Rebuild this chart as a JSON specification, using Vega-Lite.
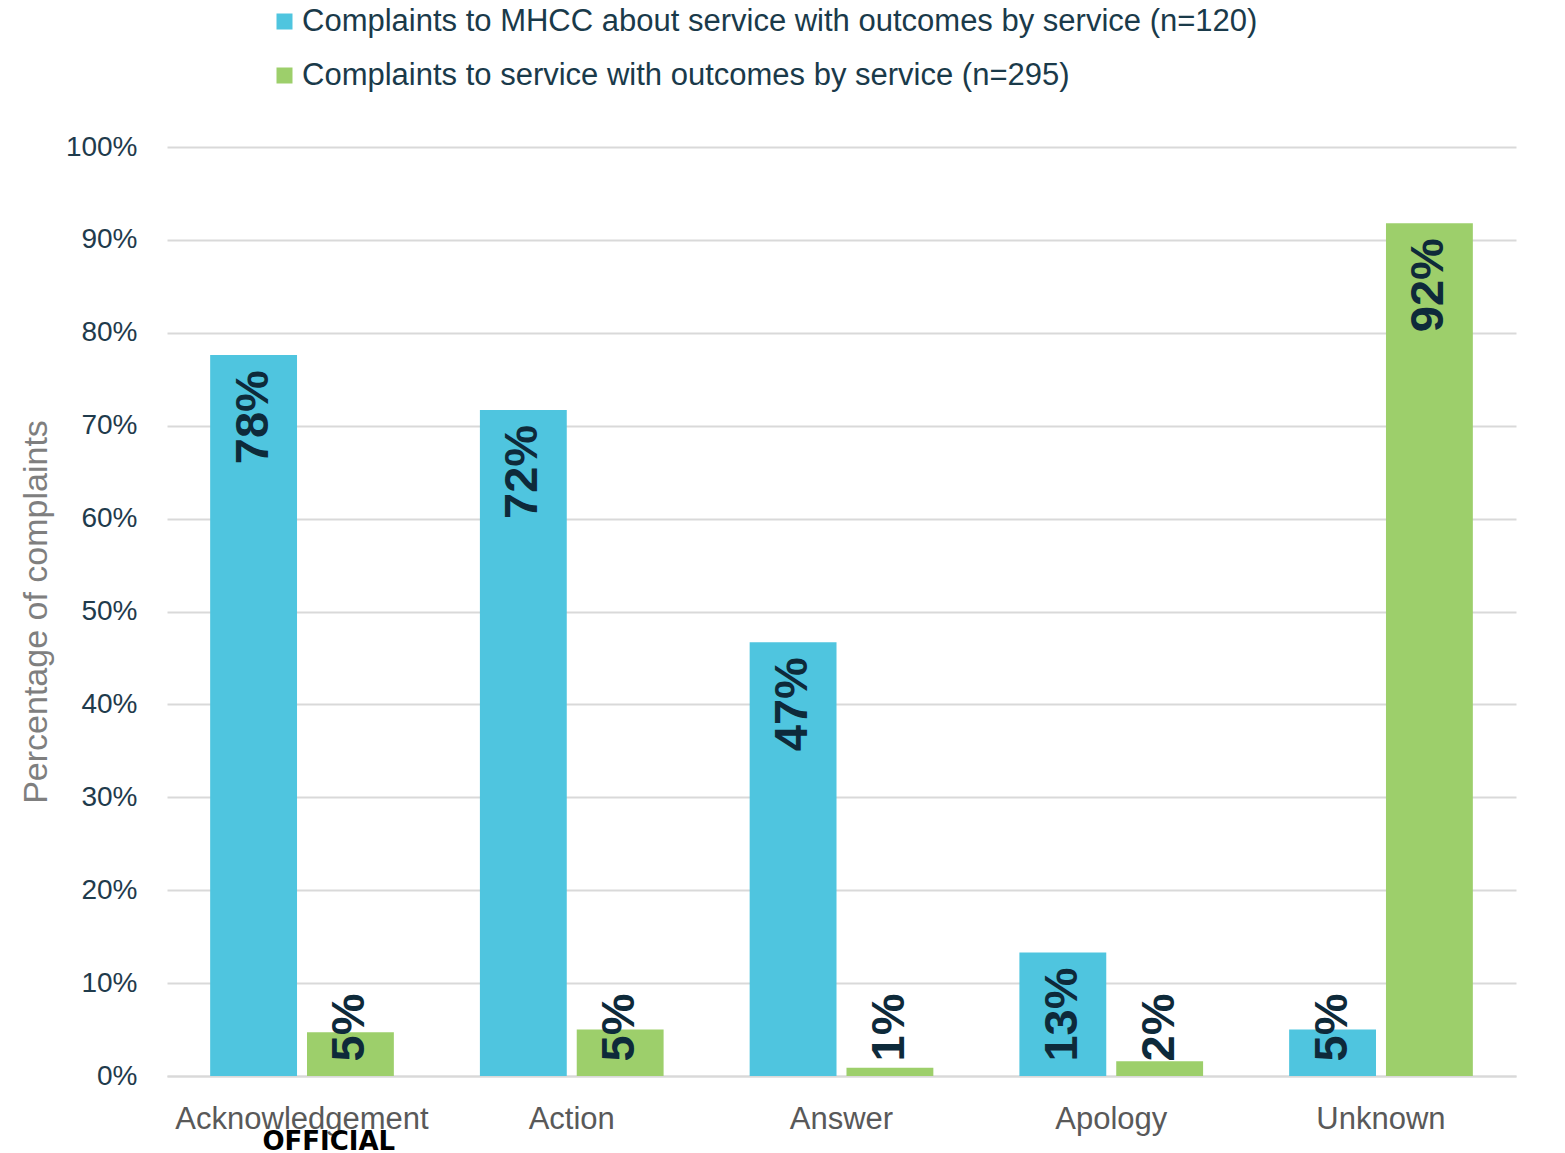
{
  "$schema": "https://vega.github.io/schema/vega-lite/v6.json",
  "autosize": {"type": "none"},
  "width": 1349,
  "height": 929,
  "padding": {"left": 167, "top": 147, "right": 49, "bottom": 77},
  "background": "white",
  "config": {
    "view": {"stroke": null},
    "font": "Liberation Sans"
  },
  "title": {
    "text": "OFFICIAL",
    "orient": "bottom",
    "anchor": "start",
    "dx": 243,
    "offset": -5,
    "font": "DejaVu Sans",
    "fontWeight": "bold",
    "fontSize": 26,
    "color": "#000000"
  },
  "data": {
    "values": [
      {"category": "Acknowledgement", "series": "Complaints to MHCC about service with outcomes by service (n=120)", "value": 0.776},
      {"category": "Acknowledgement", "series": "Complaints to service with outcomes by service (n=295)", "value": 0.047},
      {"category": "Action", "series": "Complaints to MHCC about service with outcomes by service (n=120)", "value": 0.717},
      {"category": "Action", "series": "Complaints to service with outcomes by service (n=295)", "value": 0.050},
      {"category": "Answer", "series": "Complaints to MHCC about service with outcomes by service (n=120)", "value": 0.467},
      {"category": "Answer", "series": "Complaints to service with outcomes by service (n=295)", "value": 0.009},
      {"category": "Apology", "series": "Complaints to MHCC about service with outcomes by service (n=120)", "value": 0.133},
      {"category": "Apology", "series": "Complaints to service with outcomes by service (n=295)", "value": 0.016},
      {"category": "Unknown", "series": "Complaints to MHCC about service with outcomes by service (n=120)", "value": 0.050},
      {"category": "Unknown", "series": "Complaints to service with outcomes by service (n=295)", "value": 0.918}
    ]
  },
  "encoding": {
    "x": {
      "field": "category",
      "type": "nominal",
      "sort": null,
      "scale": {"paddingInner": 0.319, "paddingOuter": 0.16},
      "axis": {
        "title": null,
        "labelAngle": 0,
        "labelFontSize": 31,
        "labelColor": "#595959",
        "labelPadding": 28,
        "labelLimit": 0,
        "labelOverlap": false,
        "ticks": false,
        "domainColor": "#d9d9d9",
        "domainWidth": 2
      }
    },
    "xOffset": {
      "field": "series",
      "type": "nominal",
      "scale": {"paddingInner": 0.103}
    }
  },
  "layer": [
    {
      "mark": {"type": "bar"},
      "encoding": {
        "y": {
          "field": "value",
          "type": "quantitative",
          "scale": {"domain": [0, 1]},
          "axis": {
            "title": "Percentage of complaints",
            "titleFontSize": 34,
            "titleFontWeight": "normal",
            "titleColor": "#7f7f7f",
            "titlePadding": 12,
            "format": ".0%",
            "values": [0, 0.1, 0.2, 0.3, 0.4, 0.5, 0.6, 0.7, 0.8, 0.9, 1],
            "labelOverlap": false,
            "labelFontSize": 28,
            "labelColor": "#1f3b4c",
            "labelPadding": 30,
            "ticks": false,
            "domain": false,
            "gridColor": "#d9d9d9",
            "gridWidth": 2
          }
        },
        "color": {
          "field": "series",
          "type": "nominal",
          "scale": {
            "domain": [
              "Complaints to MHCC about service with outcomes by service (n=120)",
              "Complaints to service with outcomes by service (n=295)"
            ],
            "range": ["#4fc5df", "#9dcf6b"]
          },
          "legend": {
            "title": null,
            "orient": "none",
            "legendX": 102,
            "legendY": -141,
            "direction": "vertical",
            "symbolType": "square",
            "symbolSize": 256,
            "symbolStrokeWidth": 0,
            "labelFontSize": 31,
            "labelColor": "#1a3a4a",
            "labelLimit": 1200,
            "rowPadding": 22,
            "labelOffset": 2
          }
        }
      }
    },
    {
      "transform": [
        {"calculate": "max(datum.value, 0.105)", "as": "labelPos"}
      ],
      "mark": {
        "type": "text",
        "angle": -90,
        "align": "right",
        "baseline": "middle",
        "dx": -15,
        "fontSize": 47,
        "fontWeight": "bold",
        "color": "#0e2a3a"
      },
      "encoding": {
        "y": {"field": "labelPos", "type": "quantitative"},
        "text": {"field": "value", "type": "quantitative", "format": ".0%"}
      }
    }
  ]
}
